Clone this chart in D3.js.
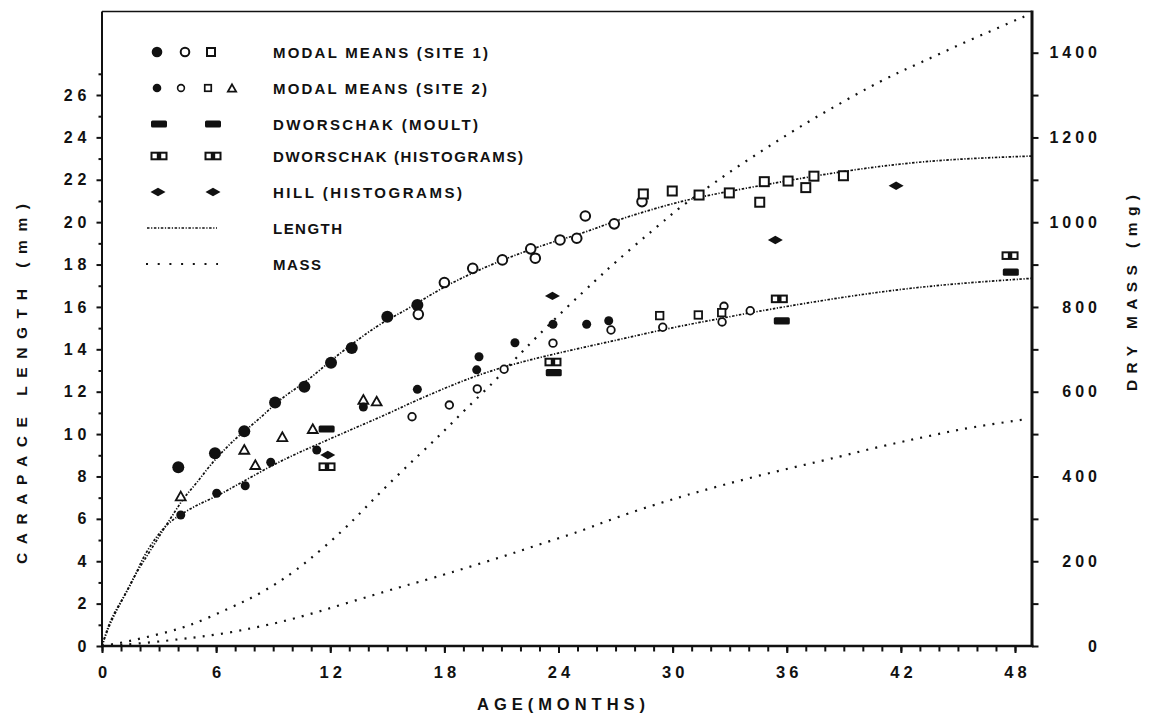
<!DOCTYPE html>
<html><head><meta charset="utf-8">
<script src="https://cdn.jsdelivr.net/npm/d3@7"></script>
<style>
html,body{margin:0;padding:0;background:#fff;}
text{font-family:"Liberation Sans",Arial,Helvetica,sans-serif;font-weight:bold;fill:#111;}
</style></head>
<body><svg id="c" width="1149" height="715"></svg>
<script>
// ---------- DATA ----------
const xTickLabels = [0,6,12,18,24,30,36,42,48];
const yLeftTickLabels = [0,2,4,6,8,10,12,14,16,18,20,22,24,26];
const yRightTickLabels = [0,200,400,600,800,1000,1200,1400];

// [age months, carapace length mm]
const site1Filled = [[4.01,8.43],[5.94,9.09],[7.48,10.13],[9.10,11.49],[10.64,12.23],[12.04,13.37],[13.13,14.06],[15.0,15.54],[16.58,16.09]];
const site1Open = [[16.63,15.65],[18.0,17.15],[19.49,17.82],[21.05,18.22],[22.54,18.74],[22.78,18.3],[24.08,19.16],[24.96,19.24],[25.41,20.29],[26.93,19.92],[28.39,20.97]];
const site1Square = [[28.46,21.33],[29.98,21.47],[31.39,21.28],[32.98,21.38],[34.58,20.94],[34.82,21.91],[36.07,21.94],[37.0,21.63],[37.43,22.17],[38.98,22.19]];
const site2Filled = [[4.14,6.18],[6.03,7.21],[7.53,7.56],[8.87,8.67],[11.29,9.25],[13.74,11.28],[16.58,12.11],[19.7,13.03],[19.82,13.65],[21.71,14.31],[23.71,15.18],[25.48,15.18],[26.64,15.35]];
const site2Open = [[16.3,10.82],[18.26,11.37],[19.73,12.13],[21.14,13.06],[23.71,14.29],[26.76,14.91],[29.48,15.04],[32.6,15.29],[32.7,16.03],[34.08,15.82]];
const site2Square = [[29.32,15.59],[31.35,15.62],[32.58,15.73]];
const site2Triangle = [[4.14,7.05],[7.48,9.25],[8.06,8.53],[9.48,9.85],[11.08,10.23],[13.74,11.61],[14.44,11.53]];
const dworschakMoult = [[11.81,10.24],[23.75,12.9],[35.74,15.34],[47.78,17.64]];
const dworschakHist = [[11.83,8.46],[23.71,13.4],[35.61,16.38],[47.74,18.42]];
const hillHist = [[11.87,9.01],[23.68,16.52],[35.4,19.16],[41.75,21.72]];

// fitted length curves [age, mm]
const lengthSite1 = [[0,0],[0.25,0.67],[0.68,1.56],[1.16,2.31],[1.63,3.21],[2.16,3.96],[2.79,4.86],[3.21,5.47],[3.89,6.42],[4.36,7.08],[4.99,7.69],[5.68,8.54],[6.47,9.3],[7.1,9.86],[8.41,10.81],[9.46,11.75],[10.77,12.46],[12.15,13.59],[14.62,15.24],[15.83,15.76],[17.25,16.57],[18.67,17.27],[20.4,17.98],[22.14,18.59],[23.71,19.07],[25.5,19.54],[27.23,20.15],[29.18,20.67],[31.07,21.14],[34.75,21.75],[37.75,22.23],[41.27,22.7],[44.74,22.98],[48.9,23.12]];
const lengthSite2 = [[0,0],[0.4,1.2],[1.1,2.25],[1.7,3.2],[2.1,4.1],[2.8,5.1],[3.5,5.85],[4.4,6.35],[5.1,6.7],[6.0,7.05],[6.9,7.5],[7.9,8.0],[9.1,8.6],[10.4,9.15],[11.8,9.7],[13.2,10.25],[14.5,10.75],[15.6,11.2],[16.3,11.5],[18.1,12.2],[19.8,12.8],[21.6,13.3],[23.4,13.7],[25.1,14.05],[26.9,14.4],[28.6,14.75],[30.4,15.1],[32.5,15.45],[34.2,15.75],[37.8,16.3],[41.3,16.77],[44.8,17.1],[48.9,17.35]];
// mass curves [age, mg]
const massSite1 = [[0,0],[1.21,9],[2.16,19],[3.47,33],[4.52,47],[5.57,66],[6.73,90],[7.62,108],[8.62,132],[9.62,160],[10.83,200],[12.67,272],[13.93,330],[15.3,393],[16.72,453],[17.98,507],[19.14,560],[20.66,625],[21.71,677],[22.82,728],[24.45,800],[26.03,866],[26.97,905],[28.76,974],[29.71,1009],[30.23,1030],[31.91,1084],[33.17,1124],[34.54,1164],[35.79,1200],[37.13,1237],[38.28,1267],[39.71,1303],[40.9,1332],[41.96,1355],[43.0,1376],[44.23,1401],[45.46,1427],[46.69,1450],[47.83,1473],[48.53,1486]];
const massSite2 = [[0,0],[0.95,2],[2.7,9],[4.1,16],[5.24,22],[6.64,31],[7.87,42],[9.06,53],[10.03,64],[11.41,81],[12.76,100],[14.27,120],[15.58,138],[16.58,150],[18.03,169],[18.98,182],[20.05,197],[20.99,210],[21.82,222],[22.62,234],[23.5,247],[24.61,263],[25.38,275],[26.08,287],[26.62,296],[27.69,313],[28.95,332],[30.02,346],[30.56,354],[32.49,378],[34.6,403],[36.7,425],[38.8,447],[40.29,464],[41.96,481],[43.0,491],[44.06,501],[45.11,511],[46.42,521],[48.53,535]];

const legendLabels = ["MODAL MEANS (SITE 1)","MODAL MEANS (SITE 2)","DWORSCHAK (MOULT)","DWORSCHAK (HISTOGRAMS)","HILL  (HISTOGRAMS)","LENGTH","MASS"];

// ---------- LAYOUT ----------
const svg = d3.select("#c");
const X0 = 102, XR = 1032, YB = 646, YT = 11.5;
const x = d3.scaleLinear().domain([0,48]).range([X0,1015]);
const yL = d3.scaleLinear().domain([0,26]).range([YB,95]);
const yM = d3.scaleLinear().domain([0,1400]).range([YB,52.7]);
const FONT = "'Liberation Sans',Arial,sans-serif";

// frame
svg.append("line").attr("x1",X0).attr("x2",XR).attr("y1",YT).attr("y2",YT).attr("stroke","#111").attr("stroke-width",1.6);
svg.append("line").attr("x1",X0).attr("x2",X0).attr("y1",YT).attr("y2",YB).attr("stroke","#111").attr("stroke-width",2);
svg.append("line").attr("x1",X0-1).attr("x2",XR+1.5).attr("y1",YB).attr("y2",YB).attr("stroke","#111").attr("stroke-width",2.6);
svg.append("line").attr("x1",XR).attr("x2",XR).attr("y1",YT-1).attr("y2",YB+1).attr("stroke","#111").attr("stroke-width",3);

// bottom axis
const gxMinor = svg.append("g").attr("transform",`translate(0,${YB})`)
  .call(d3.axisBottom(x).tickValues(d3.range(0,49)).tickSize(5.5).tickFormat(""));
const gx = svg.append("g").attr("transform",`translate(0,${YB})`)
  .call(d3.axisBottom(x).tickValues(xTickLabels).tickSize(7).tickPadding(13));
[gxMinor,gx].forEach(g=>{g.select(".domain").remove();g.selectAll("line").attr("stroke","#111").attr("stroke-width",2);});
gx.selectAll("text").attr("font-size",16.5).attr("font-family",FONT).attr("font-weight","bold").attr("fill","#111").attr("letter-spacing","4px").attr("dx","2px");

// left axis
const gyMinor = svg.append("g").attr("transform",`translate(${X0},0)`)
  .call(d3.axisLeft(yL).tickValues(d3.range(1,28,2)).tickSize(3.5).tickFormat(""));
const gy = svg.append("g").attr("transform",`translate(${X0},0)`)
  .call(d3.axisLeft(yL).tickValues(yLeftTickLabels).tickSize(5.5).tickPadding(10));
[gyMinor,gy].forEach(g=>{g.select(".domain").remove();g.selectAll("line").attr("stroke","#111").attr("stroke-width",2);});
gy.selectAll("text").attr("font-size",16).attr("font-family",FONT).attr("font-weight","bold").attr("fill","#111").attr("letter-spacing","5px").attr("dx","5px");

// right axis
const gr = svg.append("g").attr("transform",`translate(${XR},0)`)
  .call(d3.axisRight(yM).tickValues(d3.range(0,1500,100)).tickSize(6.5).tickFormat(d=> yRightTickLabels.includes(d) ? d : ""));
gr.select(".domain").remove();
gr.selectAll("line").attr("stroke","#111").attr("stroke-width",2);
gr.selectAll("text").attr("font-size",16).attr("font-family",FONT).attr("font-weight","bold").attr("fill","#111")
  .attr("letter-spacing","4px").attr("text-anchor","end").attr("x",69);

// axis titles
svg.append("text").attr("transform","translate(27,384) rotate(-90)").attr("text-anchor","middle")
  .attr("font-size",15.5).attr("textLength",360).attr("lengthAdjust","spacing").text("CARAPACE LENGTH (mm)");
svg.append("text").attr("transform","translate(1137,293) rotate(-90)").attr("text-anchor","middle")
  .attr("font-size",15.5).attr("textLength",196).attr("lengthAdjust","spacing").text("DRY MASS (mg)");
svg.append("text").attr("x",477).attr("y",710).attr("font-size",16.5).attr("textLength",168).attr("lengthAdjust","spacing").text("AGE(MONTHS)");

// curves
const lineL = d3.line().x(d=>x(d[0])).y(d=>yL(d[1])).curve(d3.curveBasis);
const lineM = d3.line().x(d=>x(d[0])).y(d=>yM(d[1])).curve(d3.curveBasis);
const lenStyle = s=>s.attr("fill","none").attr("stroke","#111").attr("stroke-width",1.7).attr("stroke-dasharray","2.5,1.6,1.2,1.6");
const massStyle = s=>s.attr("fill","none").attr("stroke","#111").attr("stroke-width",2.2).attr("stroke-dasharray","2,7.2");
[lengthSite1,lengthSite2].forEach(d=>svg.append("path").attr("d",lineL(d)).call(lenStyle));
[massSite1,massSite2].forEach(d=>svg.append("path").attr("d",lineM(d)).call(massStyle));

// marker helpers
function circle(g,cx,cy,r,filled,sw){g.append("circle").attr("cx",cx).attr("cy",cy).attr("r",r)
  .attr("fill",filled?"#111":"#fff").attr("stroke","#111").attr("stroke-width",filled?0:sw);}
function square(g,cx,cy,s,sw){g.append("rect").attr("x",cx-s/2).attr("y",cy-s/2).attr("width",s).attr("height",s)
  .attr("fill","#fff").attr("stroke","#111").attr("stroke-width",sw);}
function triangle(g,cx,cy,s){g.append("path").attr("d",`M${cx},${cy-s*0.55}L${cx+s*0.55},${cy+s*0.42}L${cx-s*0.55},${cy+s*0.42}Z`)
  .attr("fill","#fff").attr("stroke","#111").attr("stroke-width",1.8).attr("stroke-linejoin","miter");}
function moult(g,cx,cy){g.append("rect").attr("x",cx-8).attr("y",cy-3.6).attr("width",16).attr("height",7.2).attr("rx",1.5).attr("fill","#111");}
function hist(g,cx,cy){g.append("rect").attr("x",cx-7.5).attr("y",cy-3.3).attr("width",15).attr("height",6.6)
  .attr("fill","#fff").attr("stroke","#111").attr("stroke-width",2);
  g.append("rect").attr("x",cx-2.2).attr("y",cy-3.3).attr("width",4.4).attr("height",6.6).attr("fill","#111");}
function diamond(g,cx,cy){g.append("path").attr("d",`M${cx-7.5},${cy}L${cx},${cy-4.2}L${cx+7.5},${cy}L${cx},${cy+4.2}Z`).attr("fill","#111");}

const gm = svg.append("g");
site2Triangle.forEach(d=>triangle(gm,x(d[0]),yL(d[1]),9));
site2Filled.forEach(d=>circle(gm,x(d[0]),yL(d[1]),4.5,true));
site2Open.forEach(d=>circle(gm,x(d[0]),yL(d[1]),3.8,false,1.8));
site2Square.forEach(d=>square(gm,x(d[0]),yL(d[1]),7.5,1.8));
site1Filled.forEach(d=>circle(gm,x(d[0]),yL(d[1]),6,true));
site1Open.forEach(d=>circle(gm,x(d[0]),yL(d[1]),4.8,false,2));
site1Square.forEach(d=>square(gm,x(d[0]),yL(d[1]),9,2));
dworschakMoult.forEach(d=>moult(gm,x(d[0]),yL(d[1])));
dworschakHist.forEach(d=>hist(gm,x(d[0]),yL(d[1])));
hillHist.forEach(d=>diamond(gm,x(d[0]),yL(d[1])));

// legend
const lg = svg.append("g");
const rowsY = [52,88,124,156,192,228,264];
const textW = [215,214,205,250,189,69,48];
legendLabels.forEach((t,i)=>{
  lg.append("text").attr("x",273).attr("y",rowsY[i]+5.5).attr("font-size",15)
    .attr("textLength",textW[i]).attr("lengthAdjust","spacing").text(t);
});
circle(lg,157,rowsY[0],5.3,true); circle(lg,185,rowsY[0],4.3,false,2); square(lg,211,rowsY[0],8,2);
circle(lg,157,rowsY[1],4.3,true); circle(lg,181,rowsY[1],3.4,false,1.6); square(lg,208,rowsY[1],6.5,1.7); triangle(lg,232,rowsY[1]+0.5,7.5);
moult(lg,159,rowsY[2]); moult(lg,213,rowsY[2]);
hist(lg,159,rowsY[3]); hist(lg,213,rowsY[3]);
diamond(lg,158,rowsY[4]); diamond(lg,213,rowsY[4]);
lg.append("line").attr("x1",147).attr("x2",217).attr("y1",rowsY[5]).attr("y2",rowsY[5]).call(lenStyle);
lg.append("line").attr("x1",146).attr("x2",218).attr("y1",rowsY[6]).attr("y2",rowsY[6])
  .attr("stroke","#111").attr("stroke-width",2.2).attr("stroke-dasharray","2,9.7");
</script></body></html>
